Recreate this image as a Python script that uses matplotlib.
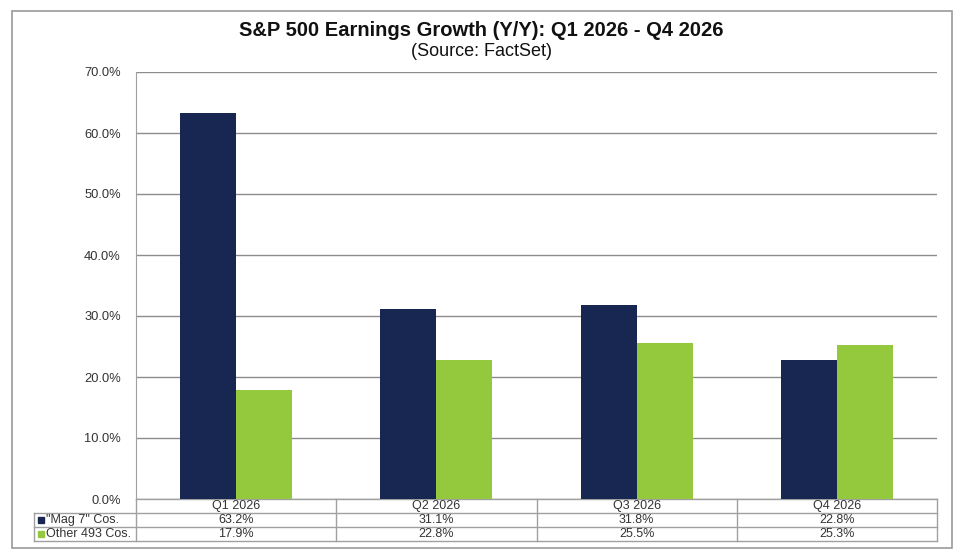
import matplotlib
matplotlib.use("Agg")
import matplotlib.pyplot as plt
from matplotlib.patches import Rectangle
import numpy as np

quarters = ["Q1 2026", "Q2 2026", "Q3 2026", "Q4 2026"]
mag7 = [63.2, 31.1, 31.8, 22.8]
other493 = [17.9, 22.8, 25.5, 25.3]
series_names = ['"Mag 7" Cos.', "Other 493 Cos."]
y_ticks = [0, 10, 20, 30, 40, 50, 60, 70]

NAVY = "#172752"
GREEN = "#94C83D"
GRID = "#8c8c8c"
LINE = "#a0a0a0"
TXT = "#333333"

plt.rcParams["font.family"] = ["Liberation Sans", "DejaVu Sans"]

W, H = 963, 558
fig = plt.figure(figsize=(W / 100, H / 100), dpi=100)

# outer frame
fig.patches.append(Rectangle((12 / W, 1 - 548 / H), 940 / W, 537 / H,
                             transform=fig.transFigure, fill=False,
                             edgecolor="#9a9a9a", linewidth=1.2))

left, right, top, bottom = 136, 937, 72, 499
ax = fig.add_axes([left / W, 1 - bottom / H, (right - left) / W, (bottom - top) / H])

x = np.arange(len(quarters))
w = 0.28
ax.bar(x - w / 2, mag7, w, color=NAVY, zorder=3)
ax.bar(x + w / 2, other493, w, color=GREEN, zorder=3)

ax.set_xlim(-0.5, len(quarters) - 0.5)
ax.set_ylim(0, 70)
ax.set_yticks(y_ticks)
ax.set_yticklabels([f"{v:.1f}%" for v in y_ticks], fontsize=9.3, color=TXT)
ax.tick_params(axis="y", length=0, pad=11)
ax.set_xticks([])
ax.yaxis.grid(True, color=GRID, linewidth=1)
for s in ["top", "right", "bottom"]:
    ax.spines[s].set_visible(False)
ax.spines["left"].set_color(LINE)
ax.spines["left"].set_zorder(4)

fig.text(0.5, 1 - 30 / H, "S&P 500 Earnings Growth (Y/Y): Q1 2026 - Q4 2026",
         ha="center", va="center", fontsize=14.5, fontweight="bold", color="#111111")
fig.text(0.5, 1 - 51 / H, "(Source: FactSet)", ha="center", va="center",
         fontsize=13, color="#111111")

# data table under the axis
row_h = 14 / (bottom - top)
label_left = (34 - left) / (right - left)
kw = dict(clip_on=False, color=LINE, linewidth=1, transform=ax.transAxes)
# horizontal lines
ax.plot([0, 1], [0, 0], **kw)
ax.plot([label_left, 1], [-row_h, -row_h], **kw)
ax.plot([label_left, 1], [-2 * row_h, -2 * row_h], **kw)
ax.plot([label_left, 1], [-3 * row_h, -3 * row_h], **kw)
# vertical lines
ax.plot([label_left, label_left], [-row_h, -3 * row_h], **kw)
for i in range(len(quarters) + 1):
    xf = i / len(quarters)
    ax.plot([xf, xf], [0, -3 * row_h], **kw)

for i, q in enumerate(quarters):
    xc = (i + 0.5) / len(quarters)
    ax.text(xc, -0.5 * row_h, q, transform=ax.transAxes, ha="center", va="center",
            fontsize=9, color=TXT)
    ax.text(xc, -1.5 * row_h, f"{mag7[i]:.1f}%", transform=ax.transAxes,
            ha="center", va="center", fontsize=9, color=TXT)
    ax.text(xc, -2.5 * row_h, f"{other493[i]:.1f}%", transform=ax.transAxes,
            ha="center", va="center", fontsize=9, color=TXT)

for r, (name, col) in enumerate(zip(series_names, [NAVY, GREEN])):
    yc = -(r + 1.5) * row_h
    ax.plot([(41 - left) / (right - left)], [yc], marker="s", markersize=4.5,
            color=col, transform=ax.transAxes, clip_on=False, linestyle="none")
    ax.text((46 - left) / (right - left), yc, name, transform=ax.transAxes,
            ha="left", va="center", fontsize=9, color=TXT)

fig.savefig("out.png", dpi=100)
